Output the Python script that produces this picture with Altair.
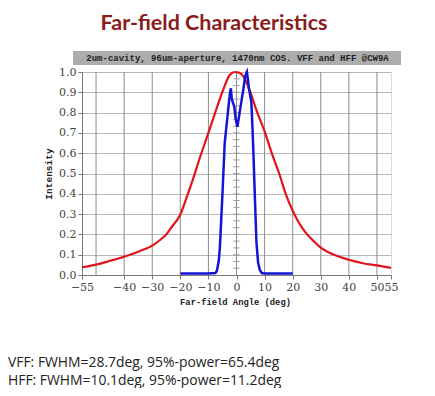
import altair as alt
import pandas as pd

# ---------------- data ----------------
vff_angle = [-55, -50, -45, -40, -35, -30, -27, -25, -22.6, -21, -20, -19, -17.8, -15.4, -13.1, -10,
             -7.1, -4.8, -2.4, -0.6, 0.8, 2.1, 3.5, 5.1, 6.9, 10.2, 12.8, 15.2, 17.5, 19.9, 21.5,
             23.5, 27.6, 30, 35, 40, 45, 50, 55]
vff_int = [0.038, 0.051, 0.07, 0.09, 0.115, 0.145, 0.175, 0.2, 0.245, 0.274, 0.298, 0.333, 0.38, 0.476,
           0.575, 0.70, 0.82, 0.91, 0.985, 1.0, 0.997, 0.985, 0.95, 0.895, 0.82, 0.70, 0.59, 0.50,
           0.40, 0.32, 0.275, 0.23, 0.165, 0.135, 0.098, 0.075, 0.058, 0.047, 0.035]

hff_angle = [-20, -10, -7.5, -7, -6.3, -5.9, -5, -4.2, -3, -2.3, -2.0, -1.7, -1.3, -0.8, -0.3, 0.3, 0.9,
             1.8, 2.5, 3.0, 3.4, 3.7, 4.1, 4.4, 4.8, 5.3, 5.9, 6.5, 7.1, 7.7, 8.3, 9, 10, 20]
hff_int = [0.008, 0.008, 0.01, 0.02, 0.07, 0.14, 0.40, 0.65, 0.81, 0.90, 0.92, 0.87, 0.85, 0.83, 0.77,
           0.73, 0.78, 0.86, 0.92, 0.97, 0.99, 1.0, 0.96, 0.92, 0.89, 0.85, 0.65, 0.40, 0.16, 0.06,
           0.025, 0.01, 0.008, 0.008]

grid_x = [-50, -40, -30, -20, -10, 0, 10, 20, 30, 40, 50]
x_ticks = [-55, -40, -30, -20, -10, 0, 10, 20, 30, 40, 50, 55]
y_ticks = [0.0, 0.1, 0.2, 0.3, 0.4, 0.5, 0.6, 0.7, 0.8, 0.9, 1.0]
center_ticks = [round(k / 30, 4) for k in range(1, 30)]

title_text = "Far-field Characteristics"
header_text = "2um-cavity, 96um-aperture, 1470nm COS. VFF and HFF @CW9A"
notes = ["VFF: FWHM=28.7deg, 95%-power=65.4deg", "HFF: FWHM=10.1deg, 95%-power=11.2deg"]
x_title = "Far-field Angle (deg)"
y_title = "Intensity"

# ---------------- tables ----------------
df_v = pd.DataFrame({"angle": vff_angle, "intensity": vff_int})
df_h = pd.DataFrame({"angle": hff_angle, "intensity": hff_int})
df_grid = pd.DataFrame({"angle": grid_x})
df_ct = pd.DataFrame({"x1": [-1.1] * len(center_ticks), "x2": [1.1] * len(center_ticks),
                      "intensity": center_ticks})

xscale = alt.Scale(domain=[-55, 55], nice=False, zero=False)
yscale = alt.Scale(domain=[0, 1], nice=False)

label_font = "DejaVu Serif"
mono = "Liberation Mono"

x_axis = alt.Axis(values=x_ticks, grid=False, labelOverlap=False, labelFlush=False,
                  labelFont=label_font, labelFontSize=11, labelColor="#444444",
                  tickSize=4, tickColor="#777777", domainColor="#777777", labelPadding=2,
                  title=x_title, titleFont=mono, titleFontSize=8.8, titleFontWeight="bold",
                  titleColor="#222222", titleX=153, titleY=26, titleAlign="center",
                  titleBaseline="middle")
y_axis = alt.Axis(values=y_ticks, format=".1f", grid=True, gridColor="#b8b8b8",
                  labelFont=label_font, labelFontSize=11, labelColor="#444444",
                  tickSize=4, tickColor="#777777", domainColor="#777777", labelPadding=2,
                  title=y_title, titleFont=mono, titleFontSize=9.5, titleFontWeight="bold",
                  titleColor="#222222", titleX=-34, titleY=101.5, titleAngle=270,
                  titleAlign="center", titleBaseline="middle")


def X(field):
    return alt.X(field, type="quantitative", scale=xscale, axis=x_axis)


def Y(field):
    return alt.Y(field, type="quantitative", scale=yscale, axis=y_axis)


grid = alt.Chart(df_grid).mark_rule(color="#8c8c8c", strokeWidth=1).encode(x=X("angle"))

cticks = alt.Chart(df_ct).mark_rule(color="#9a9a9a", strokeWidth=1).encode(
    x=X("x1"), x2="x2", y=Y("intensity"))

red = alt.Chart(df_v).mark_line(color="#e0141c", strokeWidth=2.2, interpolate="monotone").encode(
    x=X("angle"), y=Y("intensity"))

blue = alt.Chart(df_h).mark_line(color="#1414d6", strokeWidth=2.5).encode(
    x=X("angle"), y=Y("intensity"))

df_head = pd.DataFrame({"t": [header_text]})
head_rect = alt.Chart(df_head).mark_rect(color="#adadad").encode(
    x=alt.value(-9), x2=alt.value(319), y=alt.value(-21), y2=alt.value(-7))
head_text = alt.Chart(df_head).mark_text(font=mono, fontSize=9, fontWeight="bold",
                                         color="#222222", align="center",
                                         baseline="middle").encode(
    x=alt.value(155.5), y=alt.value(-14), text="t:N")

df_title = pd.DataFrame({"t": [title_text]})
title = alt.Chart(df_title).mark_text(font="Lato", fontSize=21.5, fontWeight="bold",
                                      color="#8a1c1c", align="center",
                                      baseline="middle").encode(
    x=alt.value(132), y=alt.value(-48), text="t:N")

note1 = alt.Chart(pd.DataFrame({"t": [notes[0]]})).mark_text(
    font="Open Sans", fontSize=13.9, color="#222222", align="left", baseline="middle").encode(
    x=alt.value(-74), y=alt.value(291), text="t:N")
note2 = alt.Chart(pd.DataFrame({"t": [notes[1]]})).mark_text(
    font="Open Sans", fontSize=13.9, color="#222222", align="left", baseline="middle").encode(
    x=alt.value(-74), y=alt.value(309), text="t:N")

chart = alt.layer(grid, cticks, red, blue, head_rect, head_text, title, note1, note2).properties(
    width=309, height=203,
    autosize=alt.AutoSizeParams(type="none"),
    padding={"left": 74, "top": 64, "right": 36, "bottom": 113},
).configure_view(stroke=None).configure(background="white")

chart.save("out.html", embed_options={"renderer": "svg", "actions": False})
